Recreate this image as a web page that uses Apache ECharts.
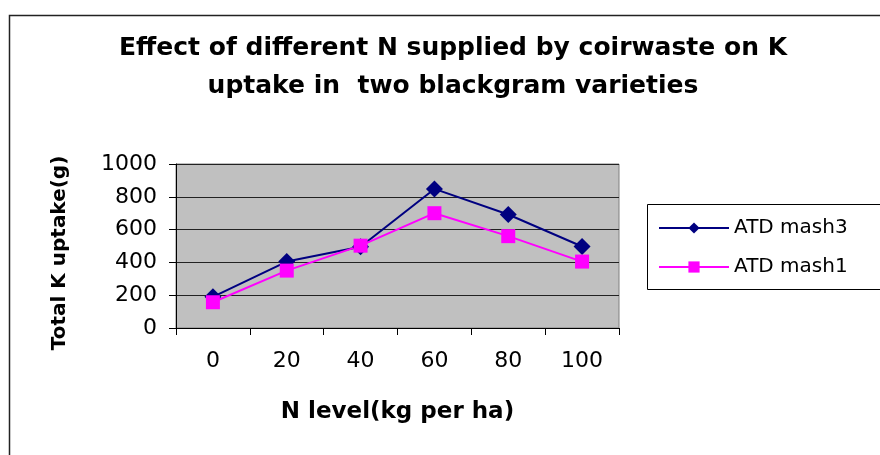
<!DOCTYPE html>
<html>
<head>
<meta charset="utf-8">
<style>
  html, body { margin: 0; padding: 0; background: #fff; }
  #main { width: 880px; height: 455px; }
</style>
<script src="https://cdn.jsdelivr.net/npm/echarts@6/dist/echarts.min.js"></script>
</head>
<body>
<div id="main"></div>
<script>
// 数据
var categories = ['0', '20', '40', '60', '80', '100'];
var mash3 = [190, 405, 495, 848, 692, 497];
var mash1 = [157, 350, 502, 700, 560, 405];
var yTicks = { min: 0, max: 1000, interval: 200 };

var FONT = 'DejaVu Sans';

var myChart = echarts.init(document.getElementById('main'));

var option = {
    animation: false,
    backgroundColor: '#fff',
    graphic: [
        // 外框
        {
            type: 'rect',
            shape: { x: 9.5, y: 15.5, width: 900, height: 500 },
            style: { fill: 'none', stroke: '#222', lineWidth: 1.5 },
            silent: true
        },
        // 图例框
        {
            type: 'rect',
            shape: { x: 647.5, y: 204.5, width: 260, height: 85 },
            style: { fill: '#fff', stroke: '#000', lineWidth: 1 },
            silent: true,
            z: 0
        },
        {
            type: 'text',
            x: 453,
            y: 29,
            style: {
                text: 'Effect of different N supplied by coirwaste on K\nuptake in  two blackgram varieties',
                align: 'center',
                fontFamily: FONT,
                fontWeight: 'bold',
                fontSize: 25,
                lineHeight: 38,
                fill: '#000'
            }
        }
    ],
    legend: {
        orient: 'vertical',
        left: 658,
        top: 218,
        itemWidth: 70,
        itemHeight: 14,
        itemGap: 19,
        padding: 0,
        z: 5,
        textStyle: {
            fontFamily: FONT,
            fontSize: 20,
            color: '#000'
        },
        data: ['ATD mash3', 'ATD mash1']
    },
    grid: {
        left: 176,
        top: 164,
        right: 261,
        bottom: 127,
        show: true,
        backgroundColor: '#c0c0c0',
        borderColor: '#808080',
        borderWidth: 1,
        containLabel: false
    },
    xAxis: {
        type: 'category',
        data: categories,
        boundaryGap: true,
        name: 'N level(kg per ha)',
        nameLocation: 'middle',
        nameGap: 73,
        nameTextStyle: {
            fontFamily: FONT,
            fontWeight: 'bold',
            fontSize: 23,
            color: '#000'
        },
        axisLine: { lineStyle: { color: '#000', width: 1 } },
        axisTick: { show: true, length: 7, lineStyle: { color: '#000' } },
        axisLabel: {
            margin: 22,
            fontFamily: FONT,
            fontSize: 22,
            color: '#000'
        },
        splitLine: { show: false }
    },
    yAxis: {
        type: 'value',
        min: yTicks.min,
        max: yTicks.max,
        interval: yTicks.interval,
        name: 'Total K uptake(g)',
        nameLocation: 'middle',
        nameGap: 106,
        nameTextStyle: {
            fontFamily: FONT,
            fontWeight: 'bold',
            fontSize: 20,
            color: '#000',
            padding: [0, 14, 0, 0]
        },
        axisLine: { show: true, lineStyle: { color: '#000', width: 1 } },
        axisTick: { show: true, length: 7, lineStyle: { color: '#000' } },
        axisLabel: {
            margin: 19,
            fontFamily: FONT,
            fontSize: 22,
            color: '#000',
            formatter: function (v) { return String(v); }
        },
        splitLine: { show: true, lineStyle: { color: '#222', width: 1 } }
    },
    series: [
        {
            name: 'ATD mash3',
            type: 'line',
            data: mash3,
            symbol: 'diamond',
            symbolSize: 17,
            lineStyle: { color: '#000080', width: 2 },
            itemStyle: { color: '#000080' }
        },
        {
            name: 'ATD mash1',
            type: 'line',
            data: mash1,
            symbol: 'rect',
            symbolSize: 14,
            lineStyle: { color: '#ff00ff', width: 2 },
            itemStyle: { color: '#ff00ff' }
        }
    ]
};

myChart.setOption(option);
</script>
</body>
</html>
